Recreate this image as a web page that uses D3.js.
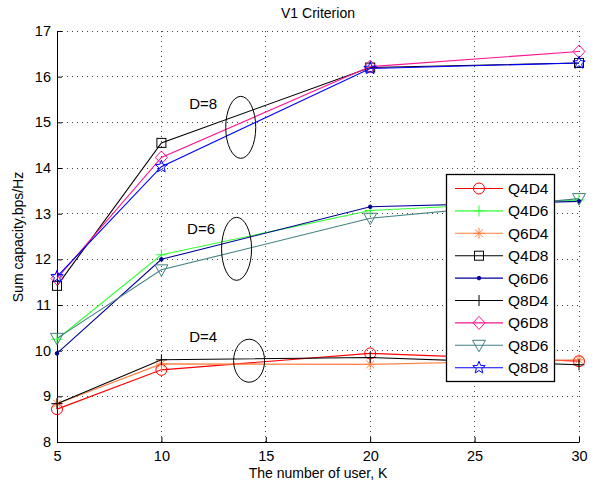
<!DOCTYPE html>
<html><head><meta charset="utf-8">
<script src="https://cdn.jsdelivr.net/npm/d3@7"></script>
<style>body{margin:0;background:#fff}svg{display:block;font-family:"Liberation Sans",Arial,sans-serif}</style>
</head><body><svg id="c" width="600" height="485"></svg>
<script>
const users = [5, 10, 20, 30];
const xTicks = [5, 10, 15, 20, 25, 30];
const yTicks = [8, 9, 10, 11, 12, 13, 14, 15, 16, 17];
const seriesNames = ["Q4D4","Q4D6","Q6D4","Q4D8","Q6D6","Q8D4","Q6D8","Q8D6","Q8D8"];
const Q4D4 = [8.72, 9.58, 9.94, 9.77];
const Q4D6 = [10.25, 12.1, 13.07, 13.3];
const Q6D4 = [8.84, 9.71, 9.70, 9.80];
const Q4D8 = [11.42, 14.55, 16.2, 16.3];
const Q6D6 = [9.94, 12.0, 13.15, 13.27];
const Q8D4 = [8.84, 9.8, 9.85, 9.69];
const Q6D8 = [11.58, 14.23, 16.22, 16.55];
const Q8D6 = [10.27, 11.77, 12.9, 13.33];
const Q8D8 = [11.62, 14.03, 16.18, 16.3];
const colors = ["#ff0000","#33ff33","#ff7f40","#000000","#000099","#000000","#ff1493","#408080","#0000ff"];
const markers = ["circle","plus","asterisk","square","dot","plus","diamond","triangle","star"];
const seriesValues = [Q4D4,Q4D6,Q6D4,Q4D8,Q6D6,Q8D4,Q6D8,Q8D6,Q8D8];
const groupLabels = ["D=8","D=6","D=4"];

const svg = d3.select("#c");
const L=57, R=579, T=31, B=442;
const x = d3.scaleLinear().domain([5,30]).range([L,R]);
const y = d3.scaleLinear().domain([8,17]).range([B,T]);

// grid
const g = svg.append("g");
xTicks.forEach(t=>{ if(t>5) g.append("line").attr("x1",x(t)).attr("x2",x(t)).attr("y1",T).attr("y2",B)
  .attr("stroke","#444").attr("stroke-width",1).attr("stroke-dasharray","1,4").attr("shape-rendering","crispEdges");});
yTicks.forEach(t=>{ if(t>8) g.append("line").attr("y1",y(t)).attr("y2",y(t)).attr("x1",L).attr("x2",R)
  .attr("stroke","#444").attr("stroke-width",1).attr("stroke-dasharray","1,4").attr("shape-rendering","crispEdges");});

// axes
const xa = svg.append("g").attr("transform",`translate(0,${B})`)
  .call(d3.axisBottom(x).tickValues(xTicks).tickSize(-5).tickPadding(9).tickSizeOuter(0));
const ya = svg.append("g").attr("transform",`translate(${L},0)`)
  .call(d3.axisLeft(y).tickValues(yTicks).tickSize(-5).tickPadding(6).tickSizeOuter(0));
[xa,ya].forEach(a=>{a.selectAll("text").attr("font-size",14.5).attr("fill","#000").attr("font-family","Liberation Sans, Arial, sans-serif");
  a.select(".domain").attr("stroke","#000");a.selectAll(".tick line").attr("stroke","#000");});

// marker drawing
function drawMarker(sel, type, cx, cy, col){
  const m = sel.append("g").attr("transform",`translate(${cx},${cy})`).attr("fill","none").attr("stroke",col).attr("stroke-width",1);
  const s=5.5;
  if(type==="circle") m.append("circle").attr("r",s);
  else if(type==="plus") m.append("path").attr("d",`M${-s},0H${s}M0,${-s}V${s}`);
  else if(type==="asterisk") m.append("path").attr("d",`M${-s},0H${s}M0,${-s}V${s}M${-s*.7},${-s*.7}L${s*.7},${s*.7}M${-s*.7},${s*.7}L${s*.7},${-s*.7}`);
  else if(type==="square") m.append("rect").attr("x",-4.5).attr("y",-4.5).attr("width",9).attr("height",9);
  else if(type==="dot") m.append("circle").attr("r",1.8).attr("fill",col);
  else if(type==="diamond") m.append("path").attr("d",`M0,${-6.5}L${6},0L0,${6.5}L${-6},0Z`);
  else if(type==="triangle") m.append("path").attr("d",`M${-6.5},${-5}H${6.5}L0,${6.5}Z`);
  else if(type==="star"){
    const pts=[];for(let i=0;i<10;i++){const r=i%2?2.8:6.5;const a=-Math.PI/2+i*Math.PI/5;pts.push([r*Math.cos(a),r*Math.sin(a)]);}
    m.append("path").attr("d","M"+pts.map(p=>p.join(",")).join("L")+"Z");
  }
}

const line = d3.line().x((d,i)=>x(users[i])).y(d=>y(d));
const plot = svg.append("g");
seriesValues.forEach((vals,k)=>{
  plot.append("path").attr("d",line(vals)).attr("fill","none").attr("stroke",colors[k]).attr("stroke-width",1.1);
});
seriesValues.forEach((vals,k)=>{
  vals.forEach((v,i)=>drawMarker(plot,markers[k],x(users[i]),y(v),colors[k]));
});

// ellipses and labels (data coordinates)
const ell = [{cx:13.8,cy:14.89,rx:15,ry:31,lx:12.0,ly:15.3},
             {cx:13.6,cy:12.23,rx:15,ry:31.5,lx:11.9,ly:12.55},
             {cx:14.2,cy:9.78,rx:15.5,ry:21.5,lx:12.0,ly:10.2}];
ell.forEach((e,i)=>{
  svg.append("ellipse").attr("cx",x(e.cx)).attr("cy",y(e.cy)).attr("rx",e.rx).attr("ry",e.ry)
    .attr("fill","none").attr("stroke","#000").attr("stroke-width",1);
  svg.append("text").attr("x",x(e.lx)).attr("y",y(e.ly)).attr("text-anchor","middle")
    .attr("font-size",15).text(groupLabels[i]);
});

// legend
const lg = svg.append("g");
lg.append("rect").attr("x",446.5).attr("y",174.5).attr("width",108).attr("height",207)
  .attr("fill","#fff").attr("stroke","#000").attr("stroke-width",1.3);
seriesNames.forEach((n,k)=>{
  const yy = 188.5 + k*22.4;
  lg.append("line").attr("x1",455).attr("x2",503).attr("y1",yy).attr("y2",yy).attr("stroke",colors[k]).attr("stroke-width",1.1);
  drawMarker(lg,markers[k],479,yy,colors[k]);
  lg.append("text").attr("x",508).attr("y",yy+5.5).attr("font-size",15.5).text(n);
});

// titles
svg.append("text").attr("x",318).attr("y",18).attr("text-anchor","middle").attr("font-size",14).text("V1 Criterion");
svg.append("text").attr("x",318).attr("y",478).attr("text-anchor","middle").attr("font-size",14).text("The number of user, K");
svg.append("text").attr("transform","translate(23,237) rotate(-90)").attr("text-anchor","middle").attr("font-size",14).text("Sum capacity,bps/Hz");
</script></body></html>
